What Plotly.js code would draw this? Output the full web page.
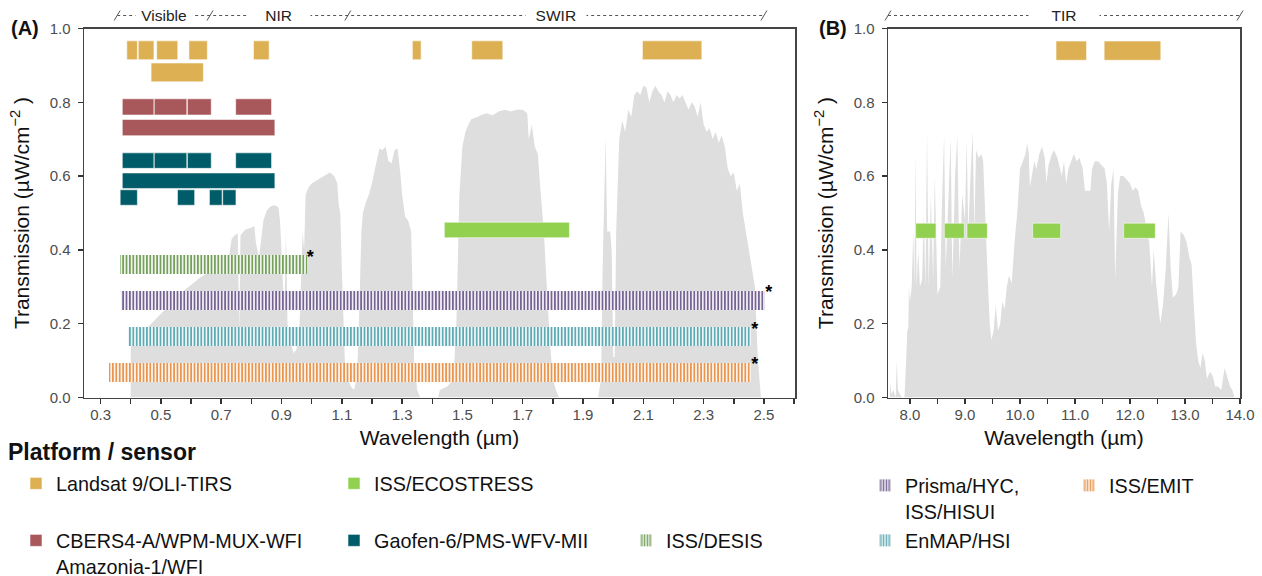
<!DOCTYPE html>
<html><head><meta charset="utf-8">
<script src="https://cdn.plot.ly/plotly-3.0.1.min.js"></script>
<style>html,body{margin:0;padding:0;background:#fff}#chart{width:1262px;height:576px}</style>
</head><body><div id="chart"></div>
<script>
// ---------------- DATA ----------------
// Atmospheric transmission, panel A (VNIR/SWIR, µm)
const specA_x = [0.400,0.400,0.42,0.45,0.48,0.51,0.54,0.57,0.60,0.63,0.66,0.685,0.688,0.692,0.70,0.71,0.715,0.72,0.725,0.735,0.745,0.755,0.760,0.764,0.78,0.80,0.81,0.815,0.82,0.825,0.83,0.84,0.85,0.86,0.87,0.88,0.89,0.895,0.90,0.905,0.91,0.915,0.92,0.93,0.94,0.95,0.96,0.965,0.97,0.975,0.98,0.99,1.00,1.02,1.04,1.06,1.075,1.085,1.09,1.095,1.10,1.105,1.11,1.12,1.13,1.14,1.15,1.155,1.16,1.165,1.17,1.18,1.19,1.20,1.21,1.22,1.225,1.235,1.245,1.255,1.265,1.275,1.285,1.295,1.30,1.31,1.32,1.33,1.335,1.34,1.35,1.36,1.42,1.425,1.45,1.47,1.48,1.485,1.49,1.50,1.51,1.52,1.53,1.55,1.56,1.58,1.60,1.62,1.64,1.66,1.68,1.70,1.715,1.72,1.73,1.74,1.75,1.76,1.77,1.78,1.79,1.80,1.81,1.82,1.95,1.96,1.965,1.975,1.98,1.99,1.995,2.00,2.005,2.01,2.02,2.03,2.04,2.05,2.06,2.07,2.08,2.09,2.10,2.11,2.12,2.13,2.14,2.15,2.16,2.17,2.18,2.19,2.20,2.21,2.22,2.23,2.24,2.25,2.26,2.27,2.28,2.29,2.30,2.31,2.32,2.33,2.34,2.35,2.36,2.37,2.38,2.39,2.40,2.41,2.42,2.43,2.44,2.45,2.46,2.47,2.48,2.485,2.49];
const specA_y = [0.00,0.14,0.155,0.185,0.21,0.235,0.26,0.285,0.305,0.325,0.34,0.355,0.33,0.36,0.375,0.39,0.36,0.33,0.38,0.43,0.44,0.445,0.18,0.44,0.455,0.46,0.465,0.42,0.40,0.38,0.41,0.48,0.505,0.515,0.52,0.52,0.515,0.48,0.40,0.30,0.25,0.45,0.20,0.15,0.12,0.13,0.20,0.35,0.45,0.40,0.55,0.57,0.58,0.59,0.60,0.61,0.60,0.58,0.52,0.50,0.35,0.20,0.10,0.05,0.03,0.02,0.05,0.15,0.30,0.45,0.50,0.53,0.55,0.58,0.62,0.66,0.675,0.67,0.68,0.64,0.635,0.67,0.675,0.60,0.55,0.49,0.48,0.45,0.30,0.10,0.02,0.00,0.00,0.02,0.03,0.05,0.20,0.35,0.55,0.68,0.72,0.74,0.755,0.76,0.765,0.77,0.765,0.775,0.78,0.775,0.78,0.78,0.77,0.70,0.74,0.68,0.66,0.55,0.45,0.30,0.15,0.05,0.02,0.00,0.00,0.05,0.35,0.706,0.45,0.45,0.40,0.11,0.11,0.45,0.70,0.75,0.72,0.78,0.76,0.82,0.83,0.82,0.845,0.84,0.80,0.83,0.845,0.83,0.82,0.80,0.83,0.82,0.80,0.82,0.81,0.82,0.80,0.78,0.80,0.79,0.76,0.80,0.74,0.72,0.73,0.70,0.72,0.69,0.71,0.68,0.62,0.60,0.61,0.56,0.58,0.50,0.45,0.40,0.35,0.30,0.10,0.04,0.00];
// Atmospheric transmission, panel B (TIR, µm)
const specB_x = [7.60,7.63,7.64,7.66,7.70,7.74,7.76,7.78,7.85,7.90,7.93,7.95,7.97,7.98,8.00,8.03,8.06,8.08,8.10,8.12,8.15,8.18,8.22,8.25,8.28,8.31,8.34,8.38,8.42,8.45,8.50,8.55,8.58,8.62,8.65,8.70,8.74,8.77,8.82,8.86,8.90,8.95,9.00,9.03,9.06,9.10,9.14,9.17,9.20,9.25,9.30,9.33,9.36,9.38,9.42,9.45,9.48,9.52,9.56,9.60,9.64,9.68,9.72,9.76,9.80,9.85,9.90,9.95,10.00,10.05,10.10,10.13,10.16,10.18,10.22,10.26,10.30,10.35,10.40,10.45,10.48,10.52,10.58,10.62,10.68,10.72,10.76,10.80,10.84,10.88,10.93,10.98,11.03,11.08,11.14,11.18,11.28,11.31,11.36,11.42,11.48,11.54,11.58,11.62,11.66,11.70,11.73,11.78,11.82,11.88,11.94,12.00,12.05,12.10,12.15,12.20,12.25,12.30,12.35,12.40,12.43,12.48,12.52,12.55,12.60,12.65,12.70,12.74,12.78,12.84,12.88,12.92,12.98,13.03,13.08,13.12,13.16,13.20,13.24,13.28,13.32,13.36,13.40,13.45,13.50,13.55,13.60,13.66,13.72,13.78,13.82,13.86,13.90];
const specB_y = [0.00,0.00,0.04,0.01,0.02,0.00,0.10,0.02,0.00,0.00,0.10,0.18,0.19,0.30,0.26,0.30,0.45,0.30,0.66,0.30,0.40,0.30,0.32,0.50,0.30,0.72,0.30,0.55,0.32,0.60,0.28,0.30,0.52,0.71,0.35,0.55,0.70,0.32,0.60,0.71,0.35,0.55,0.48,0.70,0.45,0.60,0.72,0.45,0.67,0.65,0.66,0.64,0.50,0.45,0.30,0.20,0.155,0.18,0.25,0.18,0.20,0.26,0.24,0.30,0.33,0.31,0.42,0.50,0.62,0.64,0.66,0.69,0.66,0.57,0.60,0.64,0.62,0.66,0.68,0.65,0.58,0.63,0.66,0.67,0.65,0.62,0.60,0.64,0.58,0.62,0.64,0.66,0.64,0.65,0.62,0.56,0.56,0.62,0.64,0.64,0.63,0.62,0.58,0.45,0.58,0.62,0.32,0.55,0.60,0.60,0.59,0.58,0.56,0.57,0.56,0.52,0.50,0.46,0.42,0.30,0.40,0.30,0.25,0.20,0.25,0.35,0.50,0.35,0.27,0.28,0.30,0.45,0.44,0.42,0.38,0.36,0.25,0.15,0.10,0.08,0.12,0.10,0.05,0.07,0.06,0.03,0.03,0.02,0.08,0.05,0.03,0.02,0.00];

// Sensor bands: start / end wavelength (µm) and transmission-axis row value
const landsatA_lo = [0.387,0.425,0.486,0.593,0.807,1.334,1.531,2.097,0.4675];
const landsatA_hi = [0.422,0.477,0.556,0.654,0.859,1.363,1.634,2.294,0.641];
const landsatA_row = [0.941,0.941,0.941,0.941,0.941,0.941,0.941,0.941,0.881];
const landsatB_lo = [10.655,11.53];
const landsatB_hi = [11.21,12.56];
const landsatB_row = [0.940,0.940];
const cbers_lo = [0.372,0.478,0.588,0.748,0.372];
const cbers_hi = [0.477,0.586,0.667,0.867,0.878];
const cbers_row = [0.7875,0.7875,0.7875,0.7875,0.7315];
const gaofen_lo = [0.372,0.478,0.588,0.748,0.372,0.365,0.555,0.661,0.705];
const gaofen_hi = [0.477,0.586,0.667,0.867,0.878,0.422,0.612,0.703,0.749];
const gaofen_row = [0.642,0.642,0.642,0.642,0.5875,0.542,0.542,0.542,0.542];
const ecoA_lo = [1.44];
const ecoA_hi = [1.855];
const ecoA_row = [0.454];
const ecoB_lo = [8.103,8.624,9.036,10.23,11.885];
const ecoB_hi = [8.473,8.988,9.406,10.74,12.46];
const ecoB_row = [0.452,0.452,0.452,0.452,0.452];
const desis_lo = [0.365], desis_hi = [0.984], desis_row = [0.3605];
const prisma_lo = [0.367], prisma_hi = [2.504], prisma_row = [0.263];
const enmap_lo = [0.39], enmap_hi = [2.458], enmap_row = [0.165];
const emit_lo = [0.329], emit_hi = [2.458], emit_row = [0.068];

const sensorNames = ['Landsat 9/OLI-TIRS','CBERS4-A/WPM-MUX-WFI<br>Amazonia-1/WFI','Gaofen-6/PMS-WFV-MII',
  'ISS/ECOSTRESS','ISS/DESIS','Prisma/HYC,<br>ISS/HISUI','EnMAP/HSI','ISS/EMIT'];
const regionNamesA = ['Visible','NIR','SWIR'];
const regionEdgesA = [0.355,0.663,1.12,2.5];
const regionNamesB = ['TIR'];

// ---------------- STYLE / BUILD ----------------
const FONT = 'Liberation Sans, Arial, sans-serif';
const W = 1262, H = 576;
const px = v => v / W, py = v => 1 - v / H;
const NB = '\u00a0';

function bars(name, lo, hi, row, opt) {
  const t = {
    type: 'bar', orientation: 'h', name: name,
    base: lo, x: hi.map((h, i) => h - lo[i]), y: row,
    width: opt.thick, xaxis: opt.xa, yaxis: opt.ya,
    legend: opt.legend, showlegend: !!opt.legend, hoverinfo: 'skip',
    marker: { color: opt.color, line: { color: opt.hatch ? 'rgba(0,0,0,0)' : 'rgba(255,255,255,0.7)', width: opt.hatch ? 0 : 0.8 } }
  };
  if (opt.hatch) {
    t.marker.color = 'white';
    t.marker.pattern = { shape: '|', fgcolor: opt.color, bgcolor: 'white', size: 3.4, solidity: 0.55, fillmode: 'replace' };
  }
  return t;
}

const C = { landsat: '#DDB054', cbers: '#A8575B', gaofen: '#005C68', eco: '#92D050',
  desis: '#76A05C', prisma: '#766494', enmap: '#60AAB4', emit: '#E89650' };

const data = [
  { type: 'scatter', mode: 'lines', x: specA_x, y: specA_y, fill: 'tozeroy', fillcolor: '#DEDEDE',
    line: { width: 0, color: '#DEDEDE' }, xaxis: 'x', yaxis: 'y', showlegend: false, hoverinfo: 'skip' },
  { type: 'scatter', mode: 'lines', x: specB_x, y: specB_y, fill: 'tozeroy', fillcolor: '#DEDEDE',
    line: { width: 0, color: '#DEDEDE' }, xaxis: 'x2', yaxis: 'y2', showlegend: false, hoverinfo: 'skip' },
  bars(sensorNames[0], landsatA_lo, landsatA_hi, landsatA_row, { thick: 0.051, xa: 'x', ya: 'y3', color: C.landsat, legend: 'legend' }),
  bars(sensorNames[0], landsatB_lo, landsatB_hi, landsatB_row, { thick: 0.052, xa: 'x2', ya: 'y4', color: C.landsat }),
  bars(sensorNames[1], cbers_lo, cbers_hi, cbers_row, { thick: 0.044, xa: 'x', ya: 'y3', color: C.cbers, legend: 'legend5' }),
  bars(sensorNames[2], gaofen_lo, gaofen_hi, gaofen_row, { thick: 0.042, xa: 'x', ya: 'y3', color: C.gaofen, legend: 'legend6' }),
  bars(sensorNames[3], ecoA_lo, ecoA_hi, ecoA_row, { thick: 0.042, xa: 'x', ya: 'y3', color: C.eco, legend: 'legend2' }),
  bars(sensorNames[3], ecoB_lo, ecoB_hi, ecoB_row, { thick: 0.041, xa: 'x2', ya: 'y4', color: C.eco }),
  bars(sensorNames[4], desis_lo, desis_hi, desis_row, { thick: 0.051, xa: 'x', ya: 'y3', color: C.desis, hatch: true, legend: 'legend7' }),
  bars(sensorNames[5], prisma_lo, prisma_hi, prisma_row, { thick: 0.052, xa: 'x', ya: 'y3', color: C.prisma, hatch: true, legend: 'legend3' }),
  bars(sensorNames[6], enmap_lo, enmap_hi, enmap_row, { thick: 0.050, xa: 'x', ya: 'y3', color: C.enmap, hatch: true, legend: 'legend8' }),
  bars(sensorNames[7], emit_lo, emit_hi, emit_row, { thick: 0.052, xa: 'x', ya: 'y3', color: C.emit, hatch: true, legend: 'legend4' })
];
// asterisks after the hyperspectral bars (at the top-right corner of each bar)
const starX = [desis_hi[0], prisma_hi[0], enmap_hi[0], emit_hi[0]];
const starY = [desis_row[0] + 0.0255, prisma_row[0] + 0.026, enmap_row[0] + 0.025, emit_row[0] + 0.026].map(v => v - 0.008);
data.push({ type: 'scatter', mode: 'text', x: starX, y: starY, text: starX.map(() => '*'),
  textposition: 'middle right', textfont: { family: FONT, size: 18, color: '#000', weight: 'bold' },
  xaxis: 'x', yaxis: 'y3', showlegend: false, hoverinfo: 'skip', cliponaxis: false });

const yDom = [1 - 397.5 / H, 1 - 28.5 / H];
function xAx(domain, range, tick0, dtick, minor) {
  return { domain: domain, range: range, autorange: false, tick0: tick0, dtick: dtick, tickmode: 'linear',
    tickformat: '.1f', ticks: 'outside', ticklen: 5, tickwidth: 1.5, tickcolor: '#333', ticklabelstandoff: -2,
    minor: { ticks: 'outside', ticklen: 5, tickwidth: 1.5, tickcolor: '#333', dtick: minor, tick0: tick0, showgrid: false },
    showline: true, mirror: true, linecolor: '#444', linewidth: 1.5, showgrid: false, zeroline: false,
    tickfont: { family: FONT, size: 15, color: '#4D4D4D' },
    title: { text: 'Wavelength (µm)', font: { family: FONT, size: 21, color: '#111' }, standoff: 8 } };
}
function yAx(anchor) {
  return { domain: yDom, anchor: anchor, range: [0, 1], autorange: false, tickmode: 'linear', tick0: 0, dtick: 0.2,
    tickformat: '.1f', ticks: 'outside', ticklen: 5, tickwidth: 1.5, tickcolor: '#333', ticklabelstandoff: 4,
    showline: true, mirror: true, linecolor: '#444', linewidth: 1.5, showgrid: false, zeroline: false,
    tickfont: { family: FONT, size: 15, color: '#4D4D4D' },
    title: { text: 'Transmission (µW/cm<sup>−2</sup> )', font: { family: FONT, size: 21, color: '#111' }, standoff: 14 } };
}

const bandY = py(15.5);
const shapes = [];
const annotations = [];
const bandFont = { family: FONT, size: 15.5, color: '#222' };
// band line A
shapes.push({ type: 'line', xref: 'x', yref: 'paper', x0: regionEdgesA[0], x1: regionEdgesA[regionEdgesA.length - 1], y0: bandY, y1: bandY,
  line: { color: '#555', width: 1, dash: 'dot' } });
regionEdgesA.forEach(e => shapes.push({ type: 'line', xref: 'x', yref: 'paper', xsizemode: 'pixel', xanchor: e, x0: -3, x1: 3,
  ysizemode: 'pixel', yanchor: bandY, y0: -5, y1: 5, line: { color: '#555', width: 1 } }));
const padA = { Visible: 1, NIR: 4, SWIR: 2 };
regionNamesA.forEach((n, i) => annotations.push({ xref: 'x', yref: 'paper', x: (regionEdgesA[i] + regionEdgesA[i + 1]) / 2, y: bandY,
  xanchor: 'center', yanchor: 'middle',
  text: NB.repeat(padA[n]) + n + NB.repeat(padA[n]), showarrow: false, bgcolor: 'white', borderpad: 1, font: bandFont }));
// band line B
shapes.push({ type: 'line', xref: 'x2 domain', yref: 'paper', x0: 0, x1: 1, y0: bandY, y1: bandY, line: { color: '#555', width: 1, dash: 'dot' } });
[0, 1].forEach(e => shapes.push({ type: 'line', xref: 'x2 domain', yref: 'paper', xsizemode: 'pixel', xanchor: e, x0: -3, x1: 3,
  ysizemode: 'pixel', yanchor: bandY, y0: -5, y1: 5, line: { color: '#555', width: 1 } }));
annotations.push({ xref: 'x2 domain', yref: 'paper', x: 0.5, y: bandY, xanchor: 'center', yanchor: 'middle',
  text: NB.repeat(5) + regionNamesB[0] + NB.repeat(5), showarrow: false, bgcolor: 'white', borderpad: 1, font: bandFont });
// panel letters & legend title
annotations.push({ xref: 'paper', yref: 'paper', x: px(9), y: py(28), xanchor: 'left', yanchor: 'middle', text: '<b>(A)</b>', showarrow: false,
  font: { family: FONT, size: 20, color: '#111' } });
annotations.push({ xref: 'paper', yref: 'paper', x: px(817), y: py(28), xanchor: 'left', yanchor: 'middle', text: '<b>(B)</b>', showarrow: false,
  font: { family: FONT, size: 20, color: '#111' } });
annotations.push({ xref: 'paper', yref: 'paper', x: px(6), y: py(452), xanchor: 'left', yanchor: 'middle', text: '<b>Platform / sensor</b>', showarrow: false,
  font: { family: FONT, size: 23, color: '#111' } });

function leg(cx, cy) {
  return { x: px(cx - 20), y: py(cy - 20), xanchor: 'left', yanchor: 'top', bgcolor: 'rgba(0,0,0,0)', borderwidth: 0,
    valign: 'top', font: { family: FONT, size: 19.8, color: '#111' }, itemclick: false, itemdoubleclick: false };
}

const layout = {
  width: W, height: H, margin: { l: 0, r: 0, t: 0, b: 0, autoexpand: false }, paper_bgcolor: 'white', plot_bgcolor: 'white',
  barmode: 'overlay', bargap: 0,
  font: { family: FONT },
  xaxis: Object.assign(xAx([84 / W, 795 / W], [0.245, 2.603], 0.3, 0.2, 0.1), { anchor: 'y' }),
  xaxis2: Object.assign(xAx([888 / W, 1240 / W], [7.6, 14.0], 8, 1, 0.5), { anchor: 'y2' }),
  yaxis: yAx('x'),
  yaxis2: yAx('x2'),
  yaxis3: { overlaying: 'y', anchor: 'x', range: [0, 1], autorange: false, visible: false },
  yaxis4: { overlaying: 'y2', anchor: 'x2', range: [0, 1], autorange: false, visible: false },
  legend: leg(36, 484),
  legend2: leg(354, 484),
  legend3: leg(885, 486),
  legend4: leg(1089, 486),
  legend5: leg(36, 541),
  legend6: leg(354, 541),
  legend7: leg(646, 541),
  legend8: leg(885, 541),
  shapes: shapes, annotations: annotations, showlegend: true
};

Plotly.newPlot('chart', data, layout, { displayModeBar: false, staticPlot: true });
</script></body></html>
